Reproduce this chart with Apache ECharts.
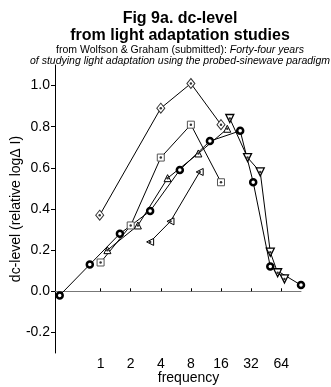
<!DOCTYPE html>
<html>
<head>
<meta charset="utf-8">
<script src="https://cdn.jsdelivr.net/npm/echarts@6/dist/echarts.min.js"></script>
<style>
html, body { margin: 0; padding: 0; background: #fff; }
#main { width: 331px; height: 387px; }
</style>
</head>
<body>
<div id="main"></div>
<script>
// values, x = frequency, y = dc-level
var circleFreq = [0.39, 0.78, 1.56, 3.13, 6.2, 12.4, 24.9, 33.6, 49.8, 101];
var circleDc = [-0.02, 0.13, 0.28, 0.39, 0.59, 0.73, 0.78, 0.53, 0.12, 0.03];
var squareFreq = [1, 2, 4, 8, 16];
var squareDc = [0.14, 0.32, 0.65, 0.81, 0.53];
var diamondFreq = [0.98, 4, 8, 16];
var diamondDc = [0.37, 0.89, 1.01, 0.81];
var upFreq = [1.17, 2.36, 4.68, 9.5, 18.5];
var upDc = [0.20, 0.32, 0.55, 0.67, 0.79];
var leftFreq = [3.13, 5.0, 9.8];
var leftDc = [0.24, 0.34, 0.58];
var downFreq = [19.6, 29.5, 39.5, 49.8, 59, 69];
var downDc = [0.84, 0.65, 0.58, 0.19, 0.09, 0.06];

var xTicks = [1, 2, 4, 8, 16, 32, 64];
var yTicks = [-0.2, 0, 0.2, 0.4, 0.6, 0.8, 1.0];

function pts(f, v) {
  return f.map(function (x, i) { return [x, v[i]]; });
}

// one line with open markers
function lineSeries(f, v, symbol, size, rotate, border, bw) {
  return {
    type: 'line',
    data: pts(f, v),
    symbol: symbol,
    symbolSize: size,
    symbolRotate: rotate,
    showAllSymbol: true,
    lineStyle: { color: '#000', width: 1 },
    itemStyle: { color: '#fff', borderColor: border, borderWidth: bw },
    emphasis: { disabled: true },
    z: 2
  };
}
// small black dot in the middle of the open markers
function dotSeries(f, v) {
  return {
    type: 'scatter',
    data: pts(f, v),
    symbol: 'circle',
    symbolSize: 2.5,
    itemStyle: { color: '#000' },
    silent: true,
    z: 3
  };
}

var chart = echarts.init(document.getElementById('main'), null, { renderer: 'canvas' });

var option = {
  animation: false,
  backgroundColor: '#fff',
  textStyle: { fontFamily: 'Liberation Sans, Arial, sans-serif' },
  title: [{
    text: 'Fig 9a. dc-level\nfrom light adaptation studies',
    left: 175,
    top: 5,
    textAlign: 'center',
    textStyle: { fontSize: 16, fontWeight: 'bold', lineHeight: 17, color: '#000', fontFamily: 'Liberation Sans' }
  }, {
    text: '{n|from Wolfson & Graham (submitted): }{i|Forty-four years}\n{i|of studying light adaptation using the probed-sinewave paradigm}',
    left: 175,
    top: 39,
    textAlign: 'center',
    textStyle: {
      fontSize: 10.5,
      fontWeight: 'normal',
      lineHeight: 11.5,
      color: '#000',
      rich: {
        n: { fontSize: 10.5, fontFamily: 'Liberation Sans', color: '#000', lineHeight: 11.5 },
        i: { fontSize: 10.5, fontFamily: 'Liberation Sans', fontStyle: 'italic', color: '#000', lineHeight: 11.5 }
      }
    }
  }],
  grid: { left: 55, top: 65, right: 30, bottom: 34, containLabel: false, outerBoundsMode: 'none' },
  xAxis: {
    type: 'log',
    logBase: 2,
    min: 0.35,
    max: 101,
    name: 'frequency',
    nameLocation: 'middle',
    nameGap: 18,
    nameMoveOverlap: false,
    nameTextStyle: { fontSize: 14, color: '#000', padding: [0, 0, 0, 21] },
    axisLine: { lineStyle: { color: '#777', width: 1 } },
    axisTick: { inside: true, length: 3, customValues: xTicks, lineStyle: { color: '#000' } },
    axisLabel: { customValues: xTicks, fontSize: 14, color: '#000', margin: 4 },
    splitLine: { show: false },
    minorTick: { show: false }
  },
  yAxis: {
    type: 'value',
    min: -0.3,
    max: 1.1,
    name: 'dc-level (relative log\u0394 I)',
    nameLocation: 'middle',
    nameGap: 32,
    nameMoveOverlap: false,
    nameTextStyle: { fontSize: 14, color: '#000' },
    axisLine: { show: true, lineStyle: { color: '#000', width: 1 } },
    axisTick: { show: true, length: 4, customValues: yTicks, lineStyle: { color: '#000' } },
    axisLabel: {
      customValues: yTicks,
      fontSize: 14,
      color: '#000',
      margin: 5,
      formatter: function (v) { return v.toFixed(1); }
    },
    splitLine: { show: false }
  },
  series: [
    lineSeries(diamondFreq, diamondDc, 'diamond', [8, 10], 0, '#333', 1),
    lineSeries(squareFreq, squareDc, 'rect', 7, 0, '#555', 1),
    lineSeries(upFreq, upDc, 'triangle', 7, 0, '#000', 1),
    lineSeries(leftFreq, leftDc, 'triangle', 7, 90, '#000', 1),
    lineSeries(downFreq, downDc, 'triangle', 8, 180, '#000', 1.3),
    lineSeries(circleFreq, circleDc, 'circle', 6, 0, '#000', 2.5),
    dotSeries(diamondFreq, diamondDc),
    dotSeries(squareFreq, squareDc),
    dotSeries(upFreq, upDc),
    dotSeries(leftFreq, leftDc),
    dotSeries(downFreq, downDc)
  ]
};

chart.setOption(option);
</script>
</body>
</html>
